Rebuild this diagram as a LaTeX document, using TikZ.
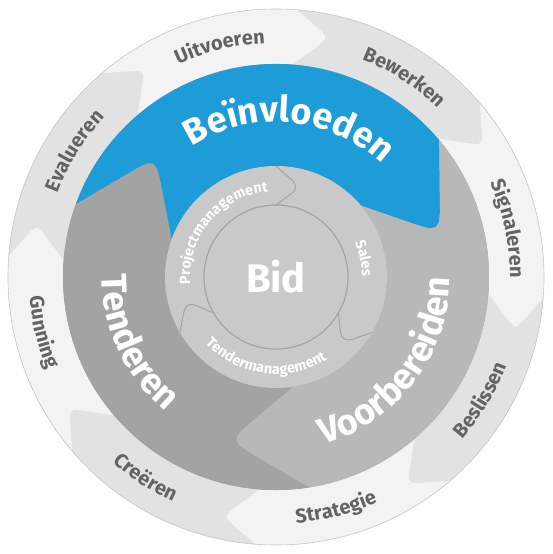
\documentclass[tikz,border=0pt]{standalone}
\usepackage{fontspec}
\setmainfont{Fira Sans}
\usetikzlibrary{calc,decorations.text}
\definecolor{BidBlue}{HTML}{1E9CD7}
\definecolor{TendGray}{HTML}{A3A3A3}
\definecolor{VoorGray}{HTML}{B8B8B8}
\definecolor{RingLight}{HTML}{F3F3F3}
\definecolor{RingDark}{HTML}{E2E2E2}
\definecolor{RimGray}{HTML}{C4C4C4}
\definecolor{CoreGray}{HTML}{C9C9C9}
\definecolor{CoreLine}{HTML}{A4A4A4}
\definecolor{WordGray}{HTML}{636363}
\newcommand{\RingFont}{\color{WordGray}\bfseries\fontsize{20}{20}\selectfont}
\newcommand{\BandFont}{\color{white}\bfseries\fontsize{36}{36}\selectfont}
\newcommand{\CoreFont}{\color{white}\bfseries\fontsize{14.5}{14.5}\selectfont}
\NewDocumentCommand{\DrawSegment}{m m m m m m m m}{
    % band piece: concave tail at #5, rounded head at #6
    \fill[#1] (#5:#3) arc[start angle=#5, end angle=#6, radius=#3]
        -- ($(#6-#7:#4)!#8!(#6:#3)$) .. controls (#6-#7:#4) .. ($(#6-#7:#4)!#8!(#6:#2)$)
        -- (#6:#2) arc[start angle=#6, end angle=#5, radius=#2]
        -- ($(#5-#7:#4)!#8!(#5:#2)$) .. controls (#5-#7:#4) .. ($(#5-#7:#4)!#8!(#5:#3)$)
        -- cycle;
}
\NewDocumentCommand{\CwWord}{O{50} m m m m}{
    \path[decorate, decoration={text along path, text align=center, text={|#2|#3}}]
        (#4+#1:#5) arc[start angle=#4+#1, end angle=#4-#1, radius=#5];
}
\NewDocumentCommand{\CcwWord}{O{50} m m m m}{
    \path[decorate, decoration={text along path, text align=center, text={|#2|#3}}]
        (#4-#1:#5) arc[start angle=#4-#1, end angle=#4+#1, radius=#5];
}

\begin{document}
\begin{tikzpicture}[x=1pt, y=1pt]

    \useasboundingbox (-276,-277) rectangle (276,277);
    \fill[white] (-276,-277) rectangle (276,277);

    % outer ring
    \fill[RingLight] (0,0) circle (268);
    \foreach \tail/\head in {85.5/40.5, -4.5/-49.5, -94.5/-139.5, 175.5/130.5} {
        \DrawSegment{RingDark}{213}{268}{245}{\tail}{\head}{8}{18pt}
    }
    \draw[RimGray, line width=0.6pt] (0,0) circle (268);

    \CwWord{\RingFont}{Uitvoeren}{103.7}{234}
    \CwWord{\RingFont}{Bewerken}{57.3}{234}
    \CwWord{\RingFont}{Signaleren}{11.7}{234}
    \CcwWord{\RingFont}{Beslissen}{-31}{247}
    \CcwWord{\RingFont}{Strategie}{-75.5}{247}
    \CcwWord{\RingFont}{Creëren}{-123}{247}
    \CcwWord{\RingFont}{Gunning}{-166.6}{247}
    \CwWord{\RingFont}{Evalueren}{148}{234}

    % middle band
    \fill[TendGray] (0,0) circle (213);
    \DrawSegment{TendGray}{111}{213}{170}{279}{160}{25}{36pt}
    \DrawSegment{BidBlue}{111}{213}{170}{160}{40}{25}{36pt}
    \DrawSegment{VoorGray}{111}{213}{170}{40}{-81}{25}{36pt}

    \CwWord[70]{\BandFont}{Beïnvloeden}{84.8}{155}
    \CcwWord[70]{\BandFont}{Tenderen}{-155.1}{174}
    \CcwWord[70]{\BandFont}{Voorbereiden}{-37.3}{174}

    % core
    \fill[CoreGray] (0,0) circle (111);
    \foreach \back in {90, -30, -150} {
        \draw[CoreLine, line width=1pt, rounded corners=10pt]
            (\back:111) -- (\back-15:93) -- (\back:72);
    }
    \draw[CoreLine, fill=CoreGray, line width=1.2pt] (0,0) circle (72);
    \node[white, font=\bfseries\fontsize{40}{40}\selectfont] (bid) at (0,0) {Bid};

    \CwWord[70]{\CoreFont}{Projectmanagement}{140}{86}
    \CwWord[70]{\CoreFont}{Sales}{11.9}{86}
    \CcwWord[70]{\CoreFont}{Tendermanagement}{-97.5}{97}

\end{tikzpicture}
\end{document}
